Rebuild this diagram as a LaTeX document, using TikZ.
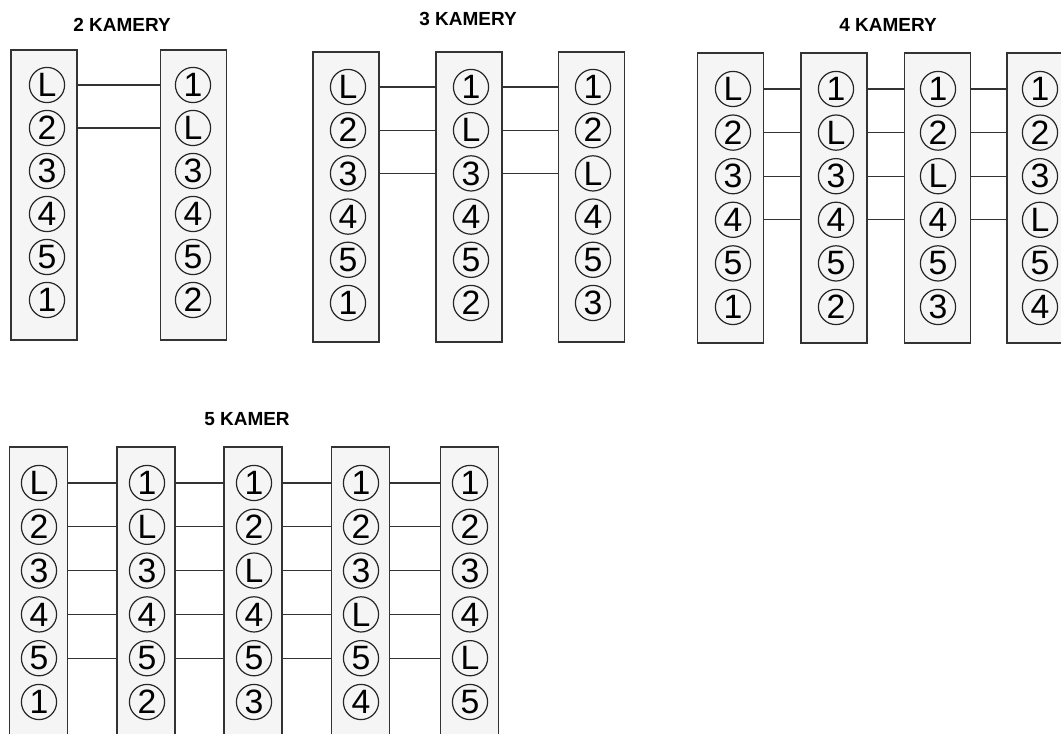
\documentclass[tikz,border=0pt]{standalone}
\usepackage{fontspec}
\setmainfont{Liberation Sans}
\usepackage{tikz}
\usetikzlibrary{positioning}

\tikzset{
    kasten/.style={draw=black!80, fill=black!4, line width=0.8pt, minimum width=1.65cm, minimum height=7.25cm, inner sep=0pt},
    kastenklein/.style={kasten, minimum width=1.45cm, minimum height=7.9cm},
    kreis/.style={circle, draw=black!85, line width=0.85pt, minimum size=0.88cm, inner sep=0pt, font=\fontsize{24}{24}\selectfont},
    titel/.style={font=\bfseries\fontsize{13.5}{13.5}\selectfont},
    kabel/.style={draw=black!80, line width=0.9pt}
}

\begin{document}
\begin{tikzpicture}[x=0.025cm, y=-0.025cm]

    % =================================================================
    % 0. RAHMEN
    % =================================================================
    \useasboundingbox (0,0) rectangle (1061,734);
    \clip (0,0) rectangle (1061,734);

    % =================================================================
    % 1. 2 KAMERY
    % =================================================================
    \node[titel] (t2) at (122,25) {2 KAMERY};
    \node[kasten] (k2a) at (44,195) {};
    \node[kasten] (k2b) at (193.5,195) {};
    \foreach \t [count=\i] in {L,2,3,4,5,1}
        \node[kreis] (k2a-\i) at (47,{85+43*(\i-1)}) {\t};
    \foreach \t [count=\i] in {1,L,3,4,5,2}
        \node[kreis] (k2b-\i) at (193,{85+43*(\i-1)}) {\t};
    % Verbindungen
    \foreach \i in {1,2}
        \draw[kabel] (k2a.east |- k2a-\i) -- (k2b.west |- k2a-\i);

    % =================================================================
    % 2. 3 KAMERY
    % =================================================================
    \node[titel] (t3) at (468,19) {3 KAMERY};
    \node[kasten] (k3a) at (346,197) {};
    \node[kasten] (k3b) at (469,197) {};
    \node[kasten] (k3c) at (591.5,197) {};
    \foreach \t [count=\i] in {L,2,3,4,5,1}
        \node[kreis] (k3a-\i) at (348,{87+43.2*(\i-1)}) {\t};
    \foreach \t [count=\i] in {1,L,3,4,5,2}
        \node[kreis] (k3b-\i) at (471,{87+43.2*(\i-1)}) {\t};
    \foreach \t [count=\i] in {1,2,L,4,5,3}
        \node[kreis] (k3c-\i) at (593,{87+43.2*(\i-1)}) {\t};
    % Verbindungen
    \foreach \i in {1,2,3} {
        \draw[kabel] (k3a.east |- k3a-\i) -- (k3b.west |- k3a-\i);
        \draw[kabel] (k3b.east |- k3b-\i) -- (k3c.west |- k3b-\i);
    }

    % =================================================================
    % 3. 4 KAMERY
    % =================================================================
    \node[titel] (t4) at (888,25) {4 KAMERY};
    \node[kasten] (k4a) at (730.5,198) {};
    \node[kasten] (k4b) at (834,198) {};
    \node[kasten] (k4c) at (937.5,198) {};
    \node[kasten] (k4d) at (1040,198) {};
    \foreach \t [count=\i] in {L,2,3,4,5,1}
        \node[kreis] (k4a-\i) at (733,{89+43.6*(\i-1)}) {\t};
    \foreach \t [count=\i] in {1,L,3,4,5,2}
        \node[kreis] (k4b-\i) at (836,{89+43.6*(\i-1)}) {\t};
    \foreach \t [count=\i] in {1,2,L,4,5,3}
        \node[kreis] (k4c-\i) at (938,{89+43.6*(\i-1)}) {\t};
    \foreach \t [count=\i] in {1,2,3,L,5,4}
        \node[kreis] (k4d-\i) at (1040,{89+43.6*(\i-1)}) {\t};
    % Verbindungen
    \foreach \i in {1,2,3,4} {
        \draw[kabel] (k4a.east |- k4a-\i) -- (k4b.west |- k4a-\i);
        \draw[kabel] (k4b.east |- k4b-\i) -- (k4c.west |- k4b-\i);
        \draw[kabel] (k4c.east |- k4c-\i) -- (k4d.west |- k4c-\i);
    }

    % =================================================================
    % 4. 5 KAMER
    % =================================================================
    \node[titel] (t5) at (247,419) {5 KAMER};
    \node[kastenklein] (k5a) at (38.5,605) {};
    \node[kastenklein] (k5b) at (146,605) {};
    \node[kastenklein] (k5c) at (253,605) {};
    \node[kastenklein] (k5d) at (360.5,605) {};
    \node[kastenklein] (k5e) at (469.5,605) {};
    \foreach \t [count=\i] in {L,2,3,4,5,1}
        \node[kreis] (k5a-\i) at (39,{483+43.8*(\i-1)}) {\t};
    \foreach \t [count=\i] in {1,L,3,4,5,2}
        \node[kreis] (k5b-\i) at (147,{483+43.8*(\i-1)}) {\t};
    \foreach \t [count=\i] in {1,2,L,4,5,3}
        \node[kreis] (k5c-\i) at (254,{483+43.8*(\i-1)}) {\t};
    \foreach \t [count=\i] in {1,2,3,L,5,4}
        \node[kreis] (k5d-\i) at (361,{483+43.8*(\i-1)}) {\t};
    \foreach \t [count=\i] in {1,2,3,4,L,5}
        \node[kreis] (k5e-\i) at (470,{483+43.8*(\i-1)}) {\t};
    % Verbindungen
    \foreach \i in {1,2,3,4,5} {
        \draw[kabel] (k5a.east |- k5a-\i) -- (k5b.west |- k5a-\i);
        \draw[kabel] (k5b.east |- k5b-\i) -- (k5c.west |- k5b-\i);
        \draw[kabel] (k5c.east |- k5c-\i) -- (k5d.west |- k5c-\i);
        \draw[kabel] (k5d.east |- k5d-\i) -- (k5e.west |- k5d-\i);
    }

\end{tikzpicture}
\end{document}
